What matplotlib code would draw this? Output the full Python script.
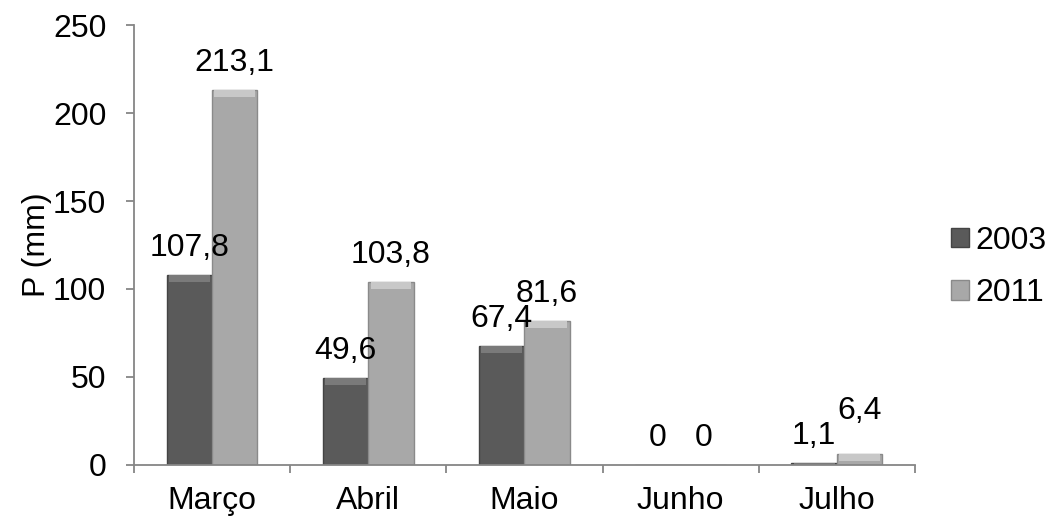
import numpy as np
import matplotlib
matplotlib.use('Agg')
import matplotlib.pyplot as plt

plt.rcParams['font.family'] = ['Liberation Sans', 'DejaVu Sans']

# Data
months = ['Março', 'Abril', 'Maio', 'Junho', 'Julho']
p2003 = [107.8, 49.6, 67.4, 0, 1.1]
p2011 = [213.1, 103.8, 81.6, 0, 6.4]
labels2003 = ['107,8', '49,6', '67,4', '0', '1,1']
labels2011 = ['213,1', '103,8', '81,6', '0', '6,4']

c2003 = '#5a5a5a'
c2011 = '#a8a8a8'
axis_c = '#868686'
fs = 23

fig = plt.figure(figsize=(10.58, 5.2), dpi=100)
ax = fig.add_axes([0.1267, 0.1058, 0.738, 0.8461])

x = np.arange(len(months))
w = 0.29

b1 = ax.bar(x - w / 2, p2003, w, color=c2003, edgecolor='#444444', linewidth=1, label='2003')
b2 = ax.bar(x + w / 2, p2011, w, color=c2011, edgecolor='#8a8a8a', linewidth=1, label='2011')

# lighter top bevel to imitate Excel style
for bars, col in ((b1, '#7a7a7a'), (b2, '#c8c8c8')):
    for r in bars:
        h = r.get_height()
        if h <= 0:
            continue
        bh = min(4.0, h)
        ax.bar(r.get_x() + r.get_width() / 2, bh, r.get_width() * 0.9,
               bottom=h - bh, color=col, linewidth=0)

# data labels
for i in range(len(months)):
    ax.annotate(labels2003[i], (x[i] - w / 2, p2003[i]), xytext=(0, 19),
                textcoords='offset pixels', ha='center', va='baseline', fontsize=fs)
    extra = 16 if (p2011[i] > 0 and p2011[i] - p2003[i] < 10 and p2011[i] < 20) else 0
    ax.annotate(labels2011[i], (x[i] + w / 2, p2011[i]), xytext=(0, 19 + extra),
                textcoords='offset pixels', ha='center', va='baseline', fontsize=fs)

ax.set_xlim(-0.5, len(months) - 0.5)
ax.set_ylim(0, 250)
ax.set_yticks(range(0, 251, 50))
ax.set_xticks(x)
ax.set_xticklabels(months, fontsize=fs)
ax.set_xticks(np.arange(-0.5, len(months), 1), minor=True)
ax.tick_params(axis='x', which='major', length=0, pad=15)
ax.tick_params(axis='x', which='minor', length=6, color=axis_c, width=1.3)
ax.tick_params(axis='y', labelsize=fs, length=6, color=axis_c, width=1.3, pad=14)

for s in ['top', 'right']:
    ax.spines[s].set_visible(False)
for s in ['left', 'bottom']:
    ax.spines[s].set_color(axis_c)
    ax.spines[s].set_linewidth(1.3)

ax.set_ylabel('P (mm)', fontsize=fs, labelpad=1)

ax.legend(loc='center left', bbox_to_anchor=(1.01, 0.45), frameon=False, fontsize=fs,
          handlelength=0.55, handleheight=0.55, handletextpad=0.2, labelspacing=0.7,
          borderaxespad=0.5)

fig.savefig('out.png', dpi=100)
